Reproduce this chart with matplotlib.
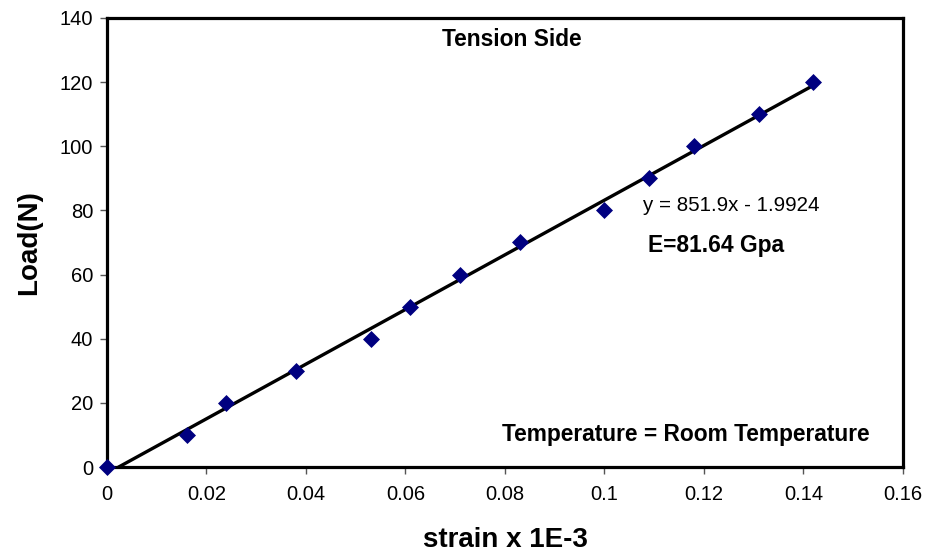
import numpy as np
import matplotlib
matplotlib.use('Agg')
import matplotlib.pyplot as plt

plt.rcParams['font.family'] = ['Liberation Sans', 'DejaVu Sans']

# Measured strain (x 1E-3) and load (N)
strain = [0.0, 0.016, 0.024, 0.038, 0.053, 0.061, 0.071, 0.083, 0.100, 0.109, 0.118, 0.131, 0.142]
load = [0, 10, 20, 30, 40, 50, 60, 70, 80, 90, 100, 110, 120]

# Linear trendline from the spreadsheet
slope = 851.9
intercept = -1.9924

x_ticks = [0, 0.02, 0.04, 0.06, 0.08, 0.1, 0.12, 0.14, 0.16]
x_tick_labels = ['0', '0.02', '0.04', '0.06', '0.08', '0.1', '0.12', '0.14', '0.16']
y_ticks = [0, 20, 40, 60, 80, 100, 120, 140]

fig = plt.figure(figsize=(9.28, 5.6), dpi=100)
ax = fig.add_axes([0.1153, 0.166, 0.8577, 0.802])

# Trendline starts where it crosses zero load
x_start = -intercept / slope
x_line = np.array([x_start, max(strain)])
ax.plot(x_line, slope * x_line + intercept, color='black', linewidth=2.4, zorder=2)

# Data points
ax.scatter(strain, load, marker='D', s=75, color='#000080', linewidths=0, zorder=3, clip_on=False)

ax.set_xlim(0, 0.16)
ax.set_ylim(0, 140)
ax.set_xticks(x_ticks)
ax.set_xticklabels(x_tick_labels)
ax.set_yticks(y_ticks)
ax.tick_params(direction='out', length=5, width=1, color='#555555', labelsize=14.5)
ax.tick_params(axis='x', pad=8)
ax.tick_params(axis='y', pad=5)

for side in ['left', 'right', 'top', 'bottom']:
    ax.spines[side].set_linewidth(2.3)
    ax.spines[side].set_color('black')

ax.set_xlabel('strain x 1E-3', fontsize=20, fontweight='bold', va='center')
ax.xaxis.set_label_coords(0.5, -0.163)
ax.set_ylabel('Load(N)', fontsize=20, fontweight='bold', va='center')
ax.yaxis.set_label_coords(-0.098, 0.5)

# Annotations
ax.text(0.0814, 133.3, 'Tension Side', fontsize=16.4, fontweight='bold', ha='center', va='center')
ax.text(0.1077, 81.6, 'y = 851.9x - 1.9924', fontsize=14.8, ha='left', va='center')
ax.text(0.1087, 69.2, 'E=81.64 Gpa', fontsize=16.4, fontweight='bold', ha='left', va='center')
ax.text(0.0794, 10, 'Temperature = Room Temperature', fontsize=16.4, fontweight='bold',
        ha='left', va='center')

fig.savefig('out.png', dpi=100)
